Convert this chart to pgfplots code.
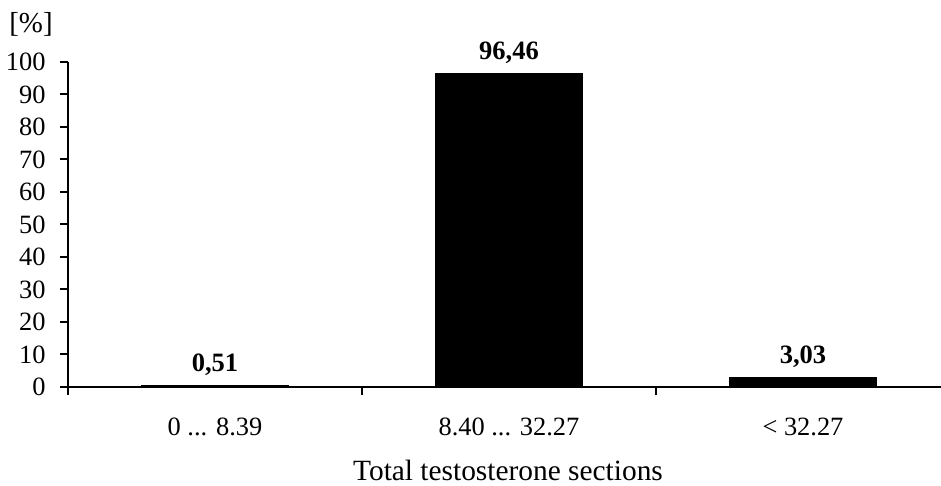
\documentclass[border=0pt]{standalone}
\usepackage{pgfplots}
\pgfplotsset{compat=1.18}
\usepackage{fontspec}
\setmainfont{Liberation Serif}
\def\ddd{...}
\begin{document}
\fontsize{13.25}{16}\selectfont
\begin{tikzpicture}
\begin{axis}[
  at={(34bp,49.5bp)}, anchor=south west,
  scale only axis, width=441bp, height=162.5bp,
  xmin=-0.5, xmax=2.5, ymin=0, ymax=100,
  axis x line=bottom, axis y line=left,
  axis line style={-, line width=1bp, black},
  ytick={0,10,20,30,40,50,60,70,80,90,100},
  xtick={0,1,2}, xticklabels={{0 \ddd{} 8.39},{8.40 \ddd{} 32.27},{< 32.27}},
  minor xtick={-0.5,0.5,1.5,2.5},
  tick align=outside,
  major tick length=4bp, minor tick length=4bp,
  major x tick style={draw=none},
  minor x tick style={line width=1bp, black},
  ytick style={line width=1bp, black},
  tick label style={font=\fontsize{13.25}{16}\selectfont, inner sep=0pt},
  x tick label style={anchor=base, yshift=-20bp},
  y tick label style={anchor=east, xshift=-7bp},
  /pgf/number format/assume math mode=true,
  ybar, bar width=0.5,
  clip=false,
  nodes near coords,
  nodes near coords style={font=\bfseries\fontsize{13.3}{16}\selectfont, anchor=base, inner sep=0pt, yshift=7bp, /pgf/number format/.cd, fixed, fixed zerofill, precision=2, use comma, assume math mode=true},
]
\addplot[fill=black, draw=black] coordinates {(0,0.51) (1,96.46) (2,3.03)};
\end{axis}
\node[font=\fontsize{14.5}{17}\selectfont, inner sep=0pt] at (15.5bp,231bp) {[\%]};
\node[font=\fontsize{14.75}{18}\selectfont, anchor=base] at (254bp,3bp) {Total testosterone sections};
\pgfresetboundingbox
\path (0,0) rectangle (470.5bp,243bp);
\end{tikzpicture}
\end{document}
